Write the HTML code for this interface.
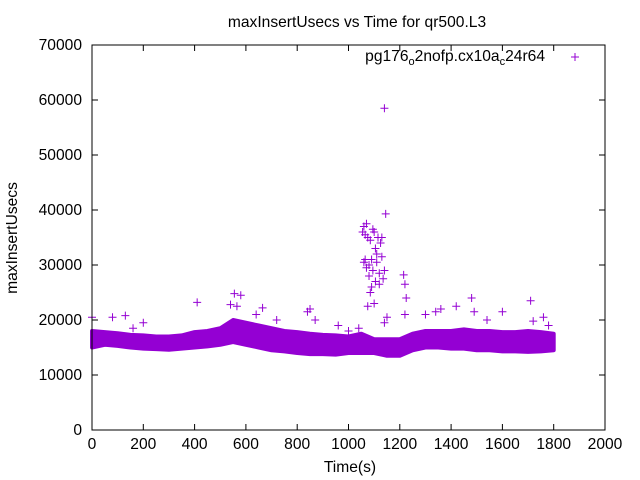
<!DOCTYPE html>
<html><head><meta charset="utf-8"><style>
body{margin:0;background:#fff}
svg{display:block;font-family:"Liberation Sans",sans-serif;font-size:15.6px}
</style></head><body>
<svg id="chart" width="640" height="480" viewBox="0 0 640 480">
<text x="357" y="27" text-anchor="middle">maxInsertUsecs vs Time for qr500.L3</text>
<g id="band"></g>
<g id="pts"></g>
<rect x="92" y="45" width="513" height="385" fill="none" stroke="#000" stroke-width="1"/>
<g id="axes"></g>
<text x="350" y="472" text-anchor="middle">Time(s)</text>
<text transform="translate(17,238) rotate(-90)" text-anchor="middle">maxInsertUsecs</text>
<g>
<text x="545" y="61" text-anchor="end">pg176<tspan font-size="11" dy="4">o</tspan><tspan dy="-4">2nofp.cx10a</tspan><tspan font-size="11" dy="4">c</tspan><tspan dy="-4">24r64</tspan></text>
<path d="M571 57h8M575 53v8" stroke="#9400d3" stroke-width="1"/>
</g>
</svg>
<script>
const xTicks=[0,200,400,600,800,1000,1200,1400,1600,1800,2000];
const yTicks=[0,10000,20000,30000,40000,50000,60000,70000];
const bandTimes=[0,50,100,150,200,250,300,350,400,450,500,550,600,650,700,750,800,850,900,950,1000,1050,1100,1150,1200,1250,1300,1350,1400,1450,1500,1550,1600,1650,1700,1750,1800];
const bandLow=[15000,15500,15300,15000,14800,14700,14600,14800,15000,15200,15500,16000,15500,15000,14500,14300,14000,13800,13800,13700,14000,14000,14000,13500,13500,14500,15000,15000,14800,14800,14500,14500,14300,14300,14200,14300,14500];
const bandHigh=[18000,17800,17600,17300,17200,17000,17000,17200,17800,18000,18500,20000,19500,19000,18500,18000,17800,17500,17300,17200,17000,17500,16500,16500,16500,17500,18000,18000,18000,18300,18000,18000,17800,17800,18000,17800,17500];
const ptTimes=[0,10,80,130,160,200,410,540,555,580,565,640,665,720,840,850,870,960,1000,1040,
1055,1060,1065,1070,1075,1080,1085,1090,1095,1100,1105,1110,1115,1120,1125,1130,1135,1060,1070,1080,1090,1100,1110,1120,1130,1140,1075,1085,1065,1095,1105,1140,1145,
1140,1150,1215,1220,1225,1220,1300,1340,1360,1420,1480,1490,1540,1600,1710,1720,1760,1780];
const ptValues=[20500,17500,20500,20800,18500,19500,23200,22800,24800,24500,22500,21000,22200,20000,21500,22000,20000,19000,18000,18500,
36000,37000,35500,37500,35000,30000,34500,31000,29000,36000,33000,30500,35000,28500,34000,31500,27500,30500,29500,28000,26000,23000,32000,26500,35000,29000,22500,25000,31000,36500,27000,58500,39300,
19500,20500,28200,26500,24000,21000,21000,21500,22000,22500,24000,21500,20000,21500,23500,19800,20500,19000];
const X0=92,X1=605,Y0=430,Y1=45;
const xs=t=>X0+(t-0)/(2000)*(X1-X0);
const ys=v=>Y0-(v/70000)*(Y0-Y1);
const NS="http://www.w3.org/2000/svg";
const axes=document.getElementById('axes');
xTicks.forEach(t=>{
 const p=document.createElementNS(NS,'path');
 
 
 const x=xs(t);
 p.setAttribute('d',`M${x} ${Y0}v-6M${x} ${Y1}v6`);p.setAttribute('stroke','#000');axes.appendChild(p);
 const l=document.createElementNS(NS,'text');
 
 
 l.setAttribute('x',x);l.setAttribute('y',Y0+19);l.setAttribute('text-anchor','middle');l.textContent=t;axes.appendChild(l);
});
yTicks.forEach(v=>{
 const p=document.createElementNS(NS,'path');
 
 
 const y=ys(v);
 p.setAttribute('d',`M${X0} ${y}h6M${X1} ${y}h-6`);p.setAttribute('stroke','#000');axes.appendChild(p);
 const l=document.createElementNS(NS,'text');
 
 
 l.setAttribute('x',X0-10);l.setAttribute('y',y+5);l.setAttribute('text-anchor','end');l.textContent=v;axes.appendChild(l);
});
let d='M'+bandTimes.map((t,i)=>xs(t)+' '+ys(bandHigh[i])).join('L');
for(let i=bandTimes.length-1;i>=0;i--)d+='L'+xs(bandTimes[i])+' '+ys(bandLow[i]);
const band=document.createElementNS(NS,'path');


band.setAttribute('d',d+'Z');band.setAttribute('fill','#9400d3');band.setAttribute('stroke','#9400d3');band.setAttribute('stroke-width','4');band.setAttribute('stroke-linejoin','round');
document.getElementById('band').appendChild(band);
const pts=document.getElementById('pts');
ptTimes.forEach((t,i)=>{
 const p=document.createElementNS(NS,'path');
 
 
 const x=xs(t),y=ys(ptValues[i]);
 p.setAttribute('d',`M${x-4} ${y}h8M${x} ${y-4}v8`);p.setAttribute('stroke','#9400d3');pts.appendChild(p);
});
</script>
</body></html>
